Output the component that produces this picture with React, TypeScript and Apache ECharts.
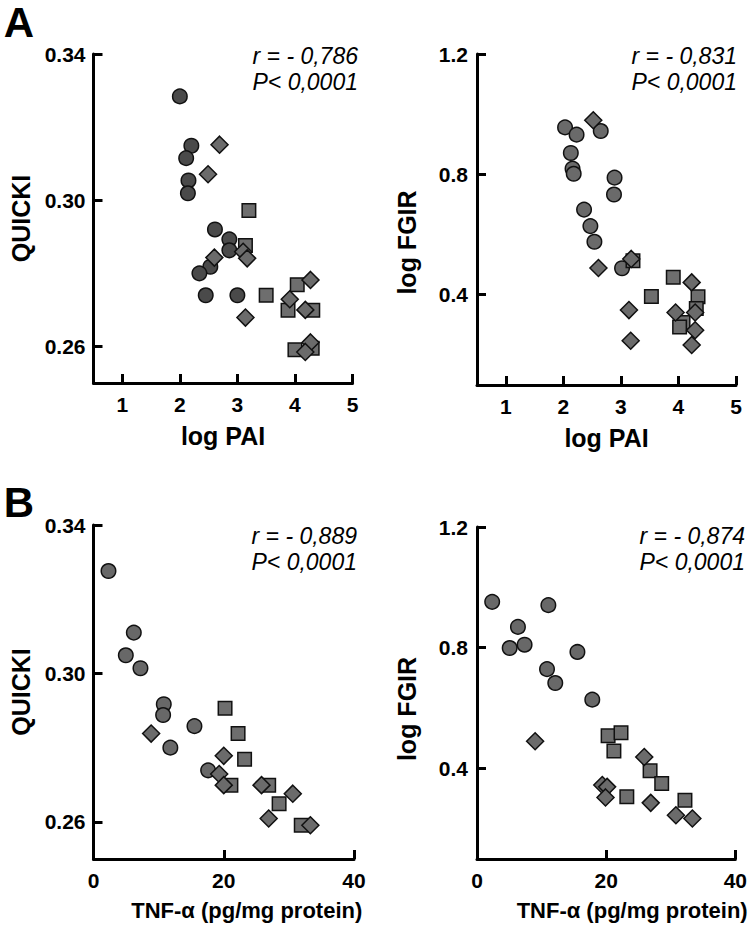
import React, { useEffect, useRef } from "react";
import * as echarts from "echarts";

// ---------- Data ----------
// Panel A-left: log PAI vs QUICKI
const aLeftCircles: [number, number][] = [
  [2.0, 0.3284], [2.2, 0.3149], [2.11, 0.3115], [2.15, 0.3054], [2.14, 0.3019],
  [2.61, 0.292], [2.86, 0.2893], [2.86, 0.2863], [2.53, 0.2818], [2.34, 0.28],
  [2.45, 0.274], [3.0, 0.274],
];
const aLeftSquares: [number, number][] = [
  [3.2, 0.2972], [3.14, 0.2876], [3.5, 0.274], [4.04, 0.2769], [3.88, 0.2699],
  [4.31, 0.2699], [4.0, 0.2591], [4.3, 0.2595],
];
const aLeftDiamonds: [number, number][] = [
  [2.69, 0.3152], [2.49, 0.3071], [2.6, 0.2843], [3.1, 0.2859], [3.17, 0.2841],
  [3.14, 0.2679], [4.27, 0.2782], [3.91, 0.2729], [4.18, 0.27], [4.27, 0.2611],
  [4.18, 0.2585],
];

// Panel A-right: log PAI vs log FGIR
const aRightCircles: [number, number][] = [
  [2.03, 0.956], [2.23, 0.932], [2.65, 0.944], [2.13, 0.871], [2.16, 0.819],
  [2.18, 0.802], [2.89, 0.789], [2.88, 0.733], [2.36, 0.683], [2.47, 0.628],
  [2.54, 0.576], [3.02, 0.488],
];
const aRightSquares: [number, number][] = [
  [3.21, 0.513], [3.91, 0.458], [3.53, 0.394], [4.34, 0.393], [4.31, 0.354],
  [4.08, 0.308], [4.02, 0.293],
];
const aRightDiamonds: [number, number][] = [
  [2.52, 0.98], [2.61, 0.489], [3.18, 0.519], [3.14, 0.349], [3.17, 0.247],
  [4.23, 0.441], [3.95, 0.341], [4.29, 0.341], [4.29, 0.282], [4.23, 0.233],
];

// Panel B-left: TNF-α vs QUICKI
const bLeftCircles: [number, number][] = [
  [2.3, 0.3276], [6.19, 0.311], [4.96, 0.3049], [7.21, 0.3014], [10.79, 0.2917],
  [10.69, 0.2888], [15.5, 0.2858], [11.8, 0.28], [17.6, 0.2739],
];
const bLeftSquares: [number, number][] = [
  [20.2, 0.2906], [22.2, 0.2838], [23.2, 0.2769], [21.1, 0.2699], [26.9, 0.2699],
  [28.5, 0.2649], [31.9, 0.2591],
];
const bLeftDiamonds: [number, number][] = [
  [8.85, 0.2838], [20.0, 0.2778], [19.3, 0.2729], [20.0, 0.2699], [25.8, 0.2699],
  [30.6, 0.2676], [26.9, 0.2609], [33.3, 0.2591],
];

// Panel B-right: TNF-α vs log FGIR
const bRightCircles: [number, number][] = [
  [2.35, 0.952], [11.05, 0.941], [6.34, 0.869], [5.06, 0.799], [7.37, 0.81],
  [15.55, 0.786], [10.84, 0.729], [12.12, 0.683], [17.85, 0.628],
];
const bRightSquares: [number, number][] = [
  [20.3, 0.508], [22.3, 0.518], [21.2, 0.458], [26.8, 0.392], [28.6, 0.35],
  [23.2, 0.306], [32.2, 0.295],
];
const bRightDiamonds: [number, number][] = [
  [9.0, 0.49], [25.9, 0.438], [19.4, 0.345], [20.15, 0.339], [19.9, 0.304],
  [26.9, 0.286], [30.8, 0.245], [33.35, 0.234],
];

// Tick values
const logPaiTicks = [1, 2, 3, 4, 5];
const tnfTicks = [0, 20, 40];
const quickiTicks = [0.26, 0.3, 0.34];
const fgirTicks = [0.4, 0.8, 1.2];

// Statistics
const stats = [
  ["r = - 0,786", "P< 0,0001"],
  ["r = - 0,831", "P< 0,0001"],
  ["r = - 0,889", "P< 0,0001"],
  ["r = - 0,874", "P< 0,0001"],
];

const FONT = "'Liberation Sans', Arial, Helvetica, sans-serif";

export default function App() {
  const ref = useRef<HTMLDivElement>(null);

  useEffect(() => {
    if (!ref.current) return;
    const chart = echarts.init(ref.current, undefined, { renderer: "svg" });

    const grids = [
      { left: 93.5, top: 54, width: 259, height: 329 },
      { left: 477, top: 54, width: 259, height: 331 },
      { left: 93.5, top: 525, width: 260.5, height: 334 },
      { left: 477, top: 527, width: 259, height: 332 },
    ];

    const axisLine = { lineStyle: { color: "#000", width: 3 } };
    const tick = (vals: number[]) => ({
      inside: true,
      length: 9,
      customValues: vals,
      lineStyle: { color: "#000", width: 3 },
    });
    const label = (vals: number[], dec: number | null, margin: number) => ({
      customValues: vals,
      color: "#000",
      fontWeight: "bold",
      fontSize: 21,
      fontFamily: FONT,
      margin,
      formatter: (v: number) => (dec === null ? String(v) : v.toFixed(dec)),
    });
    const nameStyle = (padding: number[], size = 24) => ({
      color: "#000",
      fontWeight: "bold",
      fontSize: size,
      fontFamily: FONT,
      padding,
    });

    const xAxis = [
      {
        gridIndex: 0, type: "value", min: 0.5, max: 5,
        axisLine, axisTick: tick(logPaiTicks), axisLabel: label(logPaiTicks, null, 11),
        splitLine: { show: false },
        name: "log PAI", nameLocation: "middle", nameGap: 40, nameTextStyle: nameStyle([0, 0, 0, 0], 25),
      },
      {
        gridIndex: 1, type: "value", min: 0.5, max: 5,
        axisLine, axisTick: tick(logPaiTicks), axisLabel: label(logPaiTicks, null, 11),
        splitLine: { show: false },
        name: "log PAI", nameLocation: "middle", nameGap: 40, nameTextStyle: nameStyle([0, 0, 0, 0], 25),
      },
      {
        gridIndex: 2, type: "value", min: 0, max: 40,
        axisLine, axisTick: tick(tnfTicks), axisLabel: label(tnfTicks, null, 11),
        splitLine: { show: false },
        name: "TNF-α (pg/mg protein)", nameLocation: "middle", nameGap: 40,
        nameTextStyle: nameStyle([0, 0, 0, 46], 22),
      },
      {
        gridIndex: 3, type: "value", min: 0, max: 40,
        axisLine, axisTick: tick(tnfTicks), axisLabel: label(tnfTicks, null, 11),
        splitLine: { show: false },
        name: "TNF-α (pg/mg protein)", nameLocation: "middle", nameGap: 40,
        nameTextStyle: nameStyle([0, 0, 0, 52], 22),
      },
    ];

    const yAxis = [
      {
        gridIndex: 0, type: "value", min: 0.25, max: 0.34,
        axisLine, axisTick: tick(quickiTicks), axisLabel: label(quickiTicks, 2, 8),
        splitLine: { show: false },
        name: "QUICKI", nameLocation: "middle", nameGap: 60, nameTextStyle: nameStyle([0, 0, 0, 0], 25),
      },
      {
        gridIndex: 1, type: "value", min: 0.1, max: 1.2,
        axisLine, axisTick: tick(fgirTicks), axisLabel: label(fgirTicks, 1, 9),
        splitLine: { show: false },
        name: "log FGIR", nameLocation: "middle", nameGap: 58, nameTextStyle: nameStyle([0, 46, 0, 0], 25),
      },
      {
        gridIndex: 2, type: "value", min: 0.25, max: 0.34,
        axisLine, axisTick: tick(quickiTicks), axisLabel: label(quickiTicks, 2, 8),
        splitLine: { show: false },
        name: "QUICKI", nameLocation: "middle", nameGap: 60, nameTextStyle: nameStyle([0, 0, 0, 0], 25),
      },
      {
        gridIndex: 3, type: "value", min: 0.1, max: 1.2,
        axisLine, axisTick: tick(fgirTicks), axisLabel: label(fgirTicks, 1, 9),
        splitLine: { show: false },
        name: "log FGIR", nameLocation: "middle", nameGap: 58, nameTextStyle: nameStyle([0, 32, 0, 0], 25),
      },
    ];

    const border = { borderColor: "#111", borderWidth: 1.5 };
    const mk = (
      idx: number,
      name: string,
      symbol: string,
      size: number,
      color: string,
      data: [number, number][]
    ) => ({
      type: "scatter",
      name,
      xAxisIndex: idx,
      yAxisIndex: idx,
      symbol,
      symbolSize: size,
      data,
      itemStyle: { color, ...border, opacity: 1 },
      emphasis: { disabled: true },
    });

    const panels = [
      [aLeftCircles, aLeftSquares, aLeftDiamonds, "#4a4a4a"],
      [aRightCircles, aRightSquares, aRightDiamonds, "#6a6a6a"],
      [bLeftCircles, bLeftSquares, bLeftDiamonds, "#686868"],
      [bRightCircles, bRightSquares, bRightDiamonds, "#686868"],
    ] as const;

    const series: any[] = [];
    panels.forEach((p, i) => {
      series.push(mk(i, "circles", "circle", 14.5, p[3] as string, p[0] as any));
      series.push(mk(i, "squares", "rect", 13.5, "#6e6e6e", p[1] as any));
      series.push(mk(i, "diamonds", "diamond", 17, "#6b6b6b", p[2] as any));
    });

    const statPos = [
      { x: 358, y: 56 },
      { x: 737, y: 56 },
      { x: 357, y: 536 },
      { x: 745, y: 536 },
    ];
    const graphic: any[] = [];
    stats.forEach((s, i) => {
      s.forEach((t, j) => {
        graphic.push({
          type: "text",
          x: statPos[i].x,
          y: statPos[i].y + j * 26,
          style: {
            text: t,
            fill: "#000",
            font: `italic 23px ${FONT}`,
            textAlign: "right",
            textVerticalAlign: "middle",
          },
        });
      });
    });
    graphic.push({
      type: "text", x: 19, y: 22,
      style: { text: "A", fill: "#000", font: `bold 42px ${FONT}`, textAlign: "center", textVerticalAlign: "middle" },
    });
    graphic.push({
      type: "text", x: 19, y: 502,
      style: { text: "B", fill: "#000", font: `bold 42px ${FONT}`, textAlign: "center", textVerticalAlign: "middle" },
    });

    chart.setOption({
      animation: false,
      backgroundColor: "#fff",
      textStyle: { fontFamily: FONT },
      grid: grids,
      xAxis,
      yAxis,
      series,
      graphic,
    } as any);

    return () => chart.dispose();
  }, []);

  return (
    <div
      ref={ref}
      style={{ position: "absolute", left: 0, top: 0, width: 750, height: 935, background: "#fff" }}
    />
  );
}
